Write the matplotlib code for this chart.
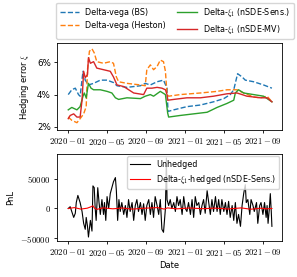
import numpy as np
import pandas as pd
import matplotlib
matplotlib.use("Agg")
import matplotlib.pyplot as plt
import matplotlib.dates as mdates
from matplotlib.ticker import FuncFormatter

plt.rcParams['mathtext.fontset'] = 'cm'

start = pd.Timestamp('2020-01-01')

# hedging error in %, x given as days since 2020-01-01
day_bs = [1, 12, 23, 33, 38, 47, 54, 64, 80, 101, 122, 142, 153, 184, 226, 241, 257, 278, 298, 309,
          312, 330, 371, 413, 454, 486, 506, 517, 529, 543, 553, 579, 610, 636]
err_bs = [4.0, 4.3, 4.4, 4.0, 3.9, 5.45, 4.9, 4.6, 4.7, 4.9, 4.9, 4.75, 4.55, 4.45, 4.55, 4.7, 4.6, 4.8, 4.9, 4.4,
          2.95, 3.05, 3.25, 3.35, 3.55, 3.75, 4.0, 4.3, 5.3, 5.1, 4.9, 4.8, 4.6, 4.4]

day_heston = [1, 12, 28, 38, 49, 57, 61, 67, 75, 82, 90, 111, 132, 142, 151, 158, 184, 226, 241, 246,
              257, 267, 278, 288, 298, 304, 309, 314, 350, 413, 465, 496, 527, 548, 579, 600, 621, 636]
err_heston = [2.6, 2.4, 2.25, 2.5, 2.8, 3.25, 5.55, 6.7, 6.85, 6.6, 6.05, 5.95, 6.05, 5.95, 5.1, 4.8, 4.7, 4.6, 4.55, 5.55,
              5.85, 5.55, 5.75, 6.15, 6.05, 5.45, 4.0, 3.9, 4.0, 4.1, 4.2, 4.3, 4.3, 4.1, 3.85, 3.8, 3.9, 3.55]

day_sens = [1, 12, 28, 38, 47, 51, 57, 64, 72, 80, 101, 122, 137, 148, 158, 184, 226, 241, 257, 267,
            288, 304, 311, 314, 350, 392, 434, 465, 496, 517, 522, 532, 548, 579, 610, 636]
err_sens = [3.05, 3.2, 3.05, 3.25, 3.9, 4.1, 3.8, 4.7, 4.4, 4.3, 4.3, 4.2, 4.1, 3.8, 3.7, 3.8, 3.75, 3.9, 4.0, 3.9,
            4.2, 4.0, 2.85, 2.6, 2.7, 2.8, 2.9, 3.2, 3.45, 3.65, 4.1, 4.3, 4.1, 4.0, 3.9, 3.55]

day_mv = [1, 7, 18, 28, 38, 44, 49, 54, 61, 64, 70, 80, 90, 111, 132, 142, 153, 174, 205, 236,
          246, 262, 278, 293, 304, 309, 311, 330, 371, 413, 454, 496, 527, 543, 558, 579, 600, 621, 636]
err_mv = [2.5, 2.7, 2.8, 2.6, 2.6, 3.65, 5.45, 5.05, 5.25, 6.3, 5.95, 6.05, 5.65, 5.55, 5.45, 5.1, 4.6, 4.5, 4.1, 4.0,
          4.4, 4.4, 4.45, 4.4, 4.3, 4.0, 3.65, 3.7, 3.8, 3.8, 3.9, 4.05, 4.1, 4.0, 3.9, 3.85, 3.8, 3.8, 3.55]

# PnL
day_pnl = [1, 7, 12, 18, 23, 26, 31, 38, 44, 49, 54, 57, 61, 64, 70, 75, 78, 82, 85, 88,
           93, 97, 101, 106, 111, 114, 118, 122, 127, 132, 137, 142, 148, 151, 155, 159, 163, 168, 174, 179,
           184, 189, 194, 200, 205, 210, 215, 220, 226, 231, 236, 241, 246, 252, 257, 262, 267, 272, 278, 283,
           288, 293, 298, 304, 307, 309, 314, 319, 324, 330, 335, 340, 345, 350, 356, 361, 366, 371, 376, 382,
           387, 392, 397, 402, 408, 413, 418, 423, 428, 434, 439, 444, 449, 454, 460, 465, 470, 475, 480, 486,
           491, 496, 501, 506, 512, 517, 522, 527, 532, 538, 543, 548, 553, 556, 561, 567, 571, 577, 581, 588,
           592, 598, 602, 608, 613, 618, 621, 624, 628, 631, 634, 636]
pnl_unhedged = [0, 3000, -5000, -15000, -8000, 10000, 22000, 10000, -5000, -25000, -35000, -15000, -30000, -48000, -20000, -38000, 38000, 35000, 0, -20000,
                35000, 10000, -10000, 15000, -10000, 10000, -20000, 20000, 0, 25000, 35000, 45000, 52000, 30000, -20000, 15000, -5000, 10000, -10000, 5000,
                -15000, 15000, -5000, 10000, -20000, 5000, 15000, -5000, 10000, -10000, 8000, -20000, 5000, 15000, -10000, 10000, -15000, 20000, 5000, -10000,
                15000, -35000, -40000, 0, 85000, 15000, 5000, 15000, 0, 10000, -5000, 20000, 5000, 15000, -10000, 20000, 0, -5000, 10000, -10000,
                15000, -15000, 20000, 5000, 10000, -10000, 5000, 15000, -8000, 30000, 10000, -10000, 15000, -5000, 20000, -5000, 15000, -10000, 15000, -5000,
                10000, -10000, 12000, -15000, 5000, -20000, 10000, -25000, -10000, -30000, 5000, 25000, 40000, 10000, 15000, -10000, 15000, 5000, -5000, 10000,
                -25000, 5000, 10000, -10000, 10000, -15000, 5000, -25000, 0, 25000, -5000, -30000]

day_hedged = [1, 20, 40, 60, 70, 78, 82, 90, 110, 140, 170, 200, 240, 280, 300, 310, 340, 380, 420, 460,
              500, 540, 570, 600, 620, 636]
pnl_hedged = [0, 1500, -1000, 500, 2500, 4500, 1000, -1500, 1000, -500, 800, -1000, 500, 1500, -1000, 1000, -500, 800, -300, 600,
              -800, 1000, -1200, 500, -500, 0]


def to_dates(days):
    return start + pd.to_timedelta(days, unit='D')


fig = plt.figure(figsize=(2.97, 2.77), dpi=100)
ax1 = fig.add_axes([0.192, 0.531, 0.757, 0.313])
ax2 = fig.add_axes([0.192, 0.130, 0.757, 0.314])

ax1.plot(to_dates(day_bs), err_bs, '--', color='C0', lw=1, label='Delta-vega (BS)')
ax1.plot(to_dates(day_heston), err_heston, '--', color='C1', lw=1, label='Delta-vega (Heston)')
ax1.plot(to_dates(day_sens), err_sens, '-', color='C2', lw=1, label=r'Delta-$\xi_1$ (nSDE-Sens.)')
ax1.plot(to_dates(day_mv), err_mv, '-', color='C3', lw=1, label=r'Delta-$\xi_1$ (nSDE-MV)')
ax1.set_ylim(1.8, 7.2)
ax1.set_yticks([2, 4, 6])
ax1.yaxis.set_major_formatter(FuncFormatter(lambda v, p: f'{v:.0f}%'))
ax1.set_ylabel(r'Hedging error $\xi$', fontsize=6)
ax1.legend(loc='lower center', bbox_to_anchor=(0.525, 1.03), ncol=2, fontsize=5.8,
           handlelength=2.4, columnspacing=1.4, borderaxespad=0.2)

ax2.plot(to_dates(day_pnl), pnl_unhedged, color='k', lw=0.8, label='Unhedged')
ax2.plot(to_dates(day_hedged), pnl_hedged, color='r', lw=0.8, label=r'Delta-$\xi_1$-hedged (nSDE-Sens.)')
ax2.set_yticks([-50000, 0, 50000])
ax2.yaxis.set_major_formatter(FuncFormatter(lambda v, p: f'${v:.0f}$'))
ax2.set_ylabel('PnL', fontsize=6)
ax2.set_xlabel('Date', fontsize=6, labelpad=2)
ax2.legend(loc='upper right', fontsize=5.8, handlelength=2.4, borderaxespad=0.3)

for ax in (ax1, ax2):
    ax.set_xlim(pd.Timestamp('2019-11-28'), pd.Timestamp('2021-10-29'))
    ax.xaxis.set_major_locator(mdates.MonthLocator(bymonth=[1, 5, 9]))
    ax.xaxis.set_major_formatter(FuncFormatter(
        lambda v, p: '$' + mdates.num2date(v).strftime('%Y-%m') + '$'))
    ax.tick_params(labelsize=6.3, length=2.5, width=0.6, pad=2)
    for s in ax.spines.values():
        s.set_linewidth(0.6)

fig.savefig('out.png', dpi=100)
